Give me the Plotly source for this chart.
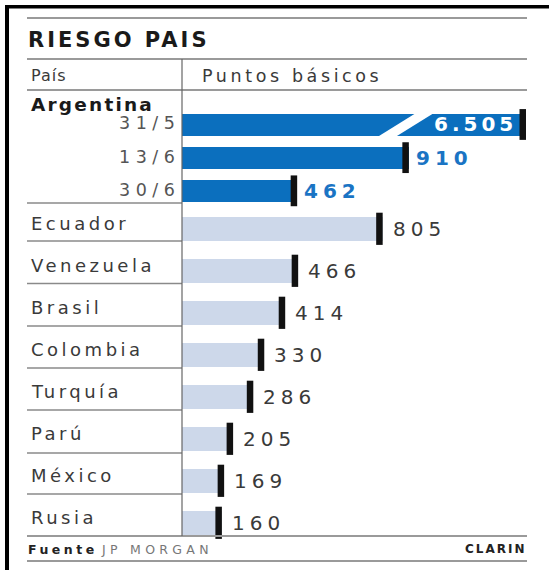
import plotly.graph_objects as go

# ---------------- data ----------------
TITLE = "RIESGO PAIS"
HEAD_LEFT = "País"
HEAD_RIGHT = "Puntos básicos"
ARG_LABEL = "Argentina"
arg_dates = ["31/5", "13/6", "30/6"]
arg_values = [6505, 910, 462]
countries = ["Ecuador", "Venezuela", "Brasil", "Colombia", "Turquía", "Parú", "México", "Rusia"]
country_values = [805, 466, 414, 330, 286, 205, 169, 160]
SOURCE_LABEL = "Fuente"
SOURCE = "JP MORGAN"
CREDIT = "CLARIN"

# ---------------- style ----------------
W, H = 549, 570
XMAX = 1380          # visible end of the value axis (the 6.505 bar is cut here)
FONT = "DejaVu Sans"
DARK = "#0b6fbe"
LIGHT = "#cdd8ea"
BLUE_TXT = "#1a74c4"
MARK = "#111111"
GRID = "#9a9a9a"
TXT = "#3a3a3a"


def px(x):
    return x / W


def py(y):
    return 1 - y / H


def sp(s, n):
    return f'<span style="letter-spacing:{n}px">{s}</span>'


def fmt(v):
    return f"{v:,}".replace(",", ".")


X_DOM = [px(182), px(526)]
MARK_OFF = 13  # half mark width in value units

fig = go.Figure()

# Argentina bars
fig.add_trace(go.Bar(x=arg_values, y=arg_dates, orientation="h", xaxis="x", yaxis="y",
                     marker=dict(color=DARK, line=dict(width=0)), width=0.66, hoverinfo="skip"))
fig.add_trace(go.Scatter(x=[min(v, XMAX) - MARK_OFF for v in arg_values], y=arg_dates,
                         xaxis="x", yaxis="y", mode="markers", cliponaxis=False,
                         marker=dict(symbol="line-ns", size=22, color=MARK,
                                     line=dict(width=6.5, color=MARK)), hoverinfo="skip"))
# Other countries
fig.add_trace(go.Bar(x=country_values, y=countries, orientation="h", xaxis="x2", yaxis="y2",
                     marker=dict(color=LIGHT, line=dict(width=0)), width=0.57, hoverinfo="skip"))
fig.add_trace(go.Scatter(x=[min(v, XMAX) - MARK_OFF for v in country_values], y=countries,
                         xaxis="x2", yaxis="y2", mode="markers", cliponaxis=False,
                         marker=dict(symbol="line-ns", size=23, color=MARK,
                                     line=dict(width=6.5, color=MARK)), hoverinfo="skip"))

shapes = []
# break on the cut bar
shapes.append(dict(type="path", xref="x", yref="y domain",
                   path="M 779,0.70 L 950,0.967 L 1022,0.967 L 851,0.70 Z",
                   fillcolor="white", line=dict(width=0), layer="above"))


def hline(y, x0, x1, color=GRID, w=2):
    shapes.append(dict(type="line", xref="paper", yref="paper", x0=px(x0), x1=px(x1),
                       y0=py(y), y1=py(y), line=dict(color=color, width=w)))


# full-width rules
for yy in (18, 59, 90, 536, 561):
    hline(yy, 27, 527)
# left-column separators
for yy in (203, 241, 283.5, 326, 368, 410, 453, 494):
    hline(yy, 27, 182, color="#8a8a8a", w=1.5)
# vertical divider
shapes.append(dict(type="line", xref="paper", yref="paper", x0=px(182), x1=px(182),
                   y0=py(59), y1=py(536), line=dict(color="#666", width=1.2)))
# black frame
shapes.append(dict(type="rect", xref="paper", yref="paper", x0=px(5), x1=px(549),
                   y0=py(8.5), y1=py(5), fillcolor="black", line=dict(width=0)))
shapes.append(dict(type="rect", xref="paper", yref="paper", x0=px(5), x1=px(9),
                   y0=py(570), y1=py(5), fillcolor="black", line=dict(width=0)))

ann = []


def A(text, x, y, xref="paper", yref="paper", xanchor="left", size=16, color=TXT,
      bold=False, xshift=0, yshift=0):
    ann.append(dict(text=f"<b>{text}</b>" if bold else text, x=x, y=y, xref=xref, yref=yref,
                    xanchor=xanchor, yanchor="middle", showarrow=False, xshift=xshift,
                    yshift=yshift, font=dict(family=FONT, size=size, color=color)))


A(sp(TITLE, 3), px(26), py(40), size=21, color="#1a1a1a", bold=True)
A(sp(HEAD_LEFT, 1), px(29), py(76), size=16, color=TXT)
A(sp(HEAD_RIGHT, 3.6), px(200), py(76), size=17.5, color=TXT)
A(sp(ARG_LABEL, 2.2), px(29), py(104), size=18.5, color="#1a1a1a", bold=True)

for d in arg_dates:
    A(sp(d, 5.5), px(176), d, yref="y", xanchor="right", size=17.5, color="#555",
      xshift=5.5, yshift=1)
for c in countries:
    A(sp(c, 3.5), px(29), c, yref="y2", size=18, color=TXT, yshift=5)

# value labels
for i, (d, v) in enumerate(zip(arg_dates, arg_values)):
    if v > XMAX:
        A(sp(fmt(v), 4), XMAX, d, xref="x", yref="y", xanchor="right", size=20,
          color="white", bold=True, xshift=-7)
    else:
        A(sp(fmt(v), 5), v, d, xref="x", yref="y", size=20, color=BLUE_TXT, bold=True,
          xshift=5)
for c, v in zip(countries, country_values):
    A(sp(fmt(v), 5), v, c, xref="x2", yref="y2", size=20, color=TXT, xshift=8)

# footer
A(sp(SOURCE_LABEL, 3.5) + " " + f'<span style="font-weight:normal;fill:#777">{sp(SOURCE, 4.3)}</span>',
  px(26), py(549), size=12.5, color="#222", bold=True)
A(sp(CREDIT, 2), px(527), py(549), xanchor="right", size=12, color="#222", bold=True,
  xshift=2)

axis_x = dict(domain=X_DOM, range=[0, XMAX], visible=False, fixedrange=True)
fig.update_layout(
    width=W, height=H, margin=dict(l=0, r=0, t=0, b=0),
    paper_bgcolor="white", plot_bgcolor="rgba(0,0,0,0)",
    showlegend=False, bargap=0,
    font=dict(family=FONT),
    xaxis=dict(axis_x, anchor="y"),
    xaxis2=dict(axis_x, anchor="y2"),
    yaxis=dict(domain=[py(207.4), py(107.9)], type="category", categoryorder="array",
               categoryarray=arg_dates, range=[2.5, -0.5], visible=False, anchor="x",
               fixedrange=True),
    yaxis2=dict(domain=[py(543.8), py(207.8)], type="category", categoryorder="array",
                categoryarray=countries, range=[7.5, -0.5], visible=False, anchor="x2",
                fixedrange=True),
    shapes=shapes, annotations=ann,
)

fig.write_html("out.html", config={"displayModeBar": False})
